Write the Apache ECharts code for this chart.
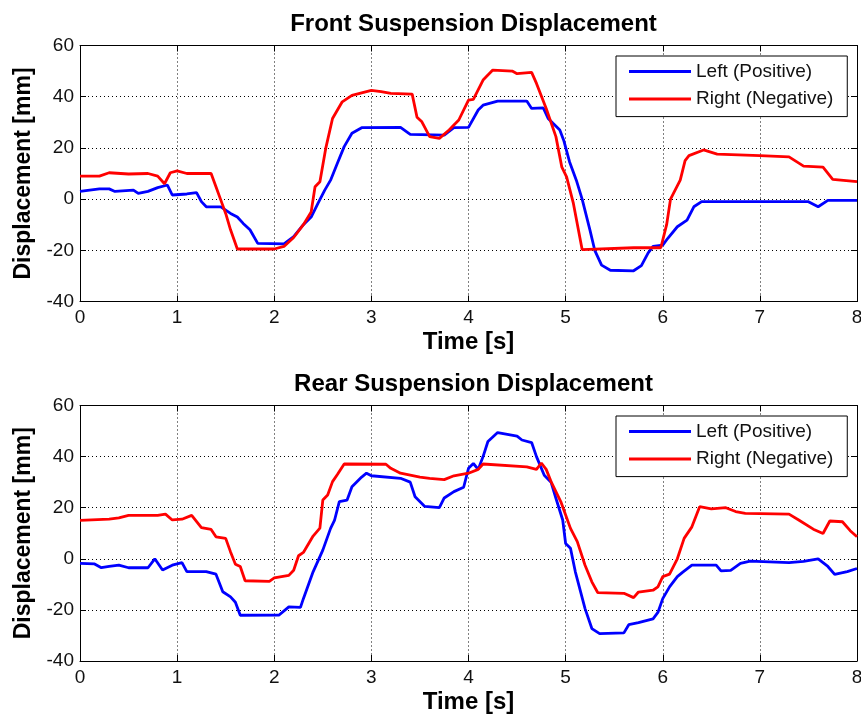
<!DOCTYPE html>
<html>
<head>
    <meta charset="utf-8">
    <title>Suspension Displacement</title>
    <script src="https://cdn.jsdelivr.net/npm/echarts@6/dist/echarts.min.js"></script>
</head>
<body style="margin:0;background:#fff;">
    <div id="main" style="width:861px;height:718px;"></div>
    <script type="text/javascript">

    // ----- data: [time s, displacement mm]
    var titles = ['Front Suspension Displacement', 'Rear Suspension Displacement'];
    var legendNames = ['Left (Positive)', 'Right (Negative)'];
    var xTicks = [0, 1, 2, 3, 4, 5, 6, 7, 8];
    var yTicks = [-40, -20, 0, 20, 40, 60];

    var frontLeft = [[0,3],[0.2,4],[0.3,4],[0.36,3],[0.55,3.5],[0.6,2.2],[0.7,3],[0.8,4.5],[0.9,5.5],[0.95,1.6],
        [1.1,2],[1.2,2.5],[1.25,-1],[1.3,-3],[1.45,-3],[1.55,-5.6],[1.62,-7],[1.68,-9.5],[1.75,-12],[1.83,-17.3],
        [2.1,-17.5],[2.2,-14.7],[2.3,-10],[2.38,-7],[2.45,-1.7],[2.52,3.5],[2.58,7.4],[2.65,14],[2.72,20.5],[2.8,25.7],
        [2.9,27.9],[3.3,28],[3.4,25.3],[3.75,25],[3.85,27.9],[4.0,28],[4.1,34.8],[4.15,36.7],[4.3,38.3],[4.6,38.3],
        [4.65,35.4],[4.77,35.6],[4.82,31.5],[4.87,29.6],[4.94,27],[4.98,23],[5.04,14.6],[5.11,7.4],[5.17,0],[5.25,-12],
        [5.3,-20],[5.37,-25.8],[5.46,-27.8],[5.7,-28],[5.78,-26],[5.85,-21],[5.9,-18.5],[6.0,-18],[6.05,-15.4],[6.15,-10.8],
        [6.25,-8.2],[6.32,-3],[6.4,-1],[7.5,-1],[7.6,-3],[7.7,-0.5],[8,-0.5]];

    var frontRight = [[0,9],[0.2,9],[0.3,10.3],[0.5,9.8],[0.7,10],[0.8,9],[0.87,6],[0.93,10.3],[1.0,11],[1.1,10],
        [1.35,10],[1.4,4.8],[1.45,-0.4],[1.5,-5.6],[1.55,-12],[1.62,-19.5],[2.0,-19.5],[2.1,-18.5],[2.2,-15],[2.3,-10],
        [2.38,-5],[2.42,4.8],[2.47,6.8],[2.53,19.8],[2.6,31.5],[2.7,38],[2.8,40.5],[3.0,42.5],[3.1,42],[3.2,41.3],
        [3.42,41],[3.47,32],[3.52,30.2],[3.6,24.4],[3.7,23.7],[3.8,27],[3.9,30.9],[4.0,38.7],[4.05,39],[4.15,46.5],
        [4.25,50.4],[4.45,50],[4.5,49],[4.65,49.5],[4.7,45.2],[4.8,35.4],[4.9,24.4],[4.96,12.6],[5.01,8.7],[5.08,-1.7],
        [5.17,-19.7],[5.7,-19],[5.98,-19],[6.04,-10],[6.08,0],[6.18,7.4],[6.23,15],[6.27,17],[6.42,19.2],[6.56,17.6],
        [7.0,17],[7.3,16.5],[7.45,12.9],[7.65,12.5],[7.75,7.7],[8.0,6.8]];

    var rearLeft = [[0,-1.8],[0.15,-2],[0.22,-3.5],[0.3,-3],[0.4,-2.5],[0.5,-3.5],[0.7,-3.5],[0.77,0],[0.85,-4.4],[0.95,-2.5],
        [1.05,-1.5],[1.1,-5],[1.3,-5],[1.4,-6],[1.47,-12.9],[1.55,-14.9],[1.6,-17],[1.65,-22.1],[2.05,-22],[2.15,-18.8],
        [2.27,-19],[2.3,-15.6],[2.4,-5.1],[2.5,3.4],[2.58,11.9],[2.62,15],[2.67,22.4],[2.75,23],[2.8,28.2],[2.9,32],
        [2.95,33.5],[3.0,32.5],[3.3,31.5],[3.4,30],[3.45,24.3],[3.55,20.5],[3.7,20],[3.75,23.8],[3.85,26.3],[3.95,28],
        [4.0,35.4],[4.05,37.3],[4.1,35],[4.15,40],[4.2,45.9],[4.3,49.4],[4.5,48],[4.55,46.5],[4.65,45.5],[4.7,40],
        [4.78,32.7],[4.85,30],[4.9,23.7],[4.97,15.2],[5.0,6],[5.05,4.1],[5.1,-5.1],[5.2,-19.5],[5.27,-27.3],[5.35,-29.3],
        [5.6,-29],[5.65,-25.8],[5.75,-25],[5.9,-23.5],[5.95,-21],[6.0,-15.6],[6.07,-11],[6.15,-7],[6.2,-5.4],[6.3,-2.5],
        [6.55,-2.5],[6.6,-4.7],[6.7,-4.5],[6.8,-1.8],[6.9,-0.9],[7.3,-1.5],[7.45,-1],[7.6,0],[7.7,-3],[7.77,-6.1],
        [7.9,-5],[8.0,-3.8]];

    var rearRight = [[0,15],[0.3,15.5],[0.4,16],[0.5,17],[0.8,17],[0.88,17.5],[0.95,15.2],[1.05,15.5],[1.15,17],[1.25,12.2],
        [1.35,11.5],[1.4,8.6],[1.5,8],[1.55,2.7],[1.6,-2.1],[1.65,-3],[1.7,-8.6],[1.95,-8.8],[2.0,-7.5],[2.15,-6.5],
        [2.2,-4.5],[2.25,1.2],[2.3,2.5],[2.4,8.9],[2.47,12],[2.5,23],[2.55,25],[2.6,30.2],[2.65,33],[2.72,37.1],
        [3.15,37],[3.2,35.4],[3.3,33.5],[3.5,32],[3.6,31.5],[3.75,31],[3.85,32.5],[4.0,33.5],[4.1,35],[4.15,37.1],
        [4.6,36],[4.7,35],[4.75,37.5],[4.8,35],[4.85,30.2],[4.95,22.4],[5.05,11.9],[5.12,6.7],[5.2,-2.5],[5.27,-9],
        [5.33,-13.2],[5.6,-13.5],[5.7,-15.2],[5.75,-13],[5.9,-12.3],[5.95,-11],[6.0,-7],[6.07,-6],[6.15,0],[6.22,8],
        [6.3,12.5],[6.38,20.4],[6.5,19.5],[6.65,20],[6.75,18.5],[6.85,17.8],[7.3,17.5],[7.4,15.2],[7.55,11.6],[7.65,9.9],
        [7.72,14.8],[7.85,14.5],[7.93,11],[8.0,8.6]];

    var myChart = echarts.init(document.getElementById('main'));

    var font = 'Liberation Sans, Arial, sans-serif';
    var grids = [
        { left: 80, top: 45.5, width: 777, height: 256 },
        { left: 80, top: 405.5, width: 777, height: 255.5 }
    ];

    var xMin = xTicks[0], xMax = xTicks[xTicks.length - 1], xStep = xTicks[1] - xTicks[0];
    var yMin = yTicks[0], yMax = yTicks[yTicks.length - 1], yStep = yTicks[1] - yTicks[0];

    var xAxes = [], yAxes = [];
    grids.forEach(function (g, gi) {
        // main axes (bottom / left) with labels and dotted grid
        xAxes.push({
            type: 'value', gridIndex: gi, position: 'bottom',
            min: xMin, max: xMax, interval: xStep,
            axisLine: { show: true, onZero: false, lineStyle: { color: '#000', width: 1 } },
            axisTick: { show: true, inside: true, length: 6, lineStyle: { color: '#000' } },
            axisLabel: { color: '#111', fontSize: 19, fontFamily: font, margin: 7 },
            splitLine: { show: true, lineStyle: { color: '#000', width: 1, type: [1, 3] } },
            name: 'Time [s]', nameLocation: 'middle', nameGap: 29,
            nameTextStyle: { color: '#000', fontSize: 24, fontWeight: 'bold', fontFamily: font }
        });
        // box: top / right axes, ticks only
        xAxes.push({
            type: 'value', gridIndex: gi, position: 'top',
            min: xMin, max: xMax, interval: xStep,
            axisLine: { show: true, onZero: false, lineStyle: { color: '#000', width: 1 } },
            axisTick: { show: true, inside: true, length: 6, lineStyle: { color: '#000' } },
            axisLabel: { show: false }, splitLine: { show: false }
        });
        yAxes.push({
            type: 'value', gridIndex: gi, position: 'left',
            min: yMin, max: yMax, interval: yStep,
            axisLine: { show: true, onZero: false, lineStyle: { color: '#000', width: 1 } },
            axisTick: { show: true, inside: true, length: 6, lineStyle: { color: '#000' } },
            axisLabel: { color: '#111', fontSize: 19, fontFamily: font, margin: 6 },
            splitLine: { show: true, lineStyle: { color: '#000', width: 1, type: [1, 3] } },
            name: 'Displacement [mm]', nameLocation: 'middle', nameGap: 43, nameRotate: 90,
            nameTextStyle: { color: '#000', fontSize: 23, fontWeight: 'bold', fontFamily: font }
        });
        yAxes.push({
            type: 'value', gridIndex: gi, position: 'right',
            min: yMin, max: yMax, interval: yStep,
            axisLine: { show: true, onZero: false, lineStyle: { color: '#000', width: 1 } },
            axisTick: { show: true, inside: true, length: 6, lineStyle: { color: '#000' } },
            axisLabel: { show: false }, splitLine: { show: false }
        });
    });

    function line(name, data, color, gi) {
        return {
            name: name, type: 'line', data: data,
            xAxisIndex: gi * 2, yAxisIndex: gi * 2,
            showSymbol: false, symbol: 'none', animation: false,
            lineStyle: { color: color, width: 2.8 },
            itemStyle: { color: color }
        };
    }

    function legend(top) {
        return {
            left: 616, top: top, orient: 'vertical',
            data: legendNames,
            icon: 'rect',
            itemWidth: 62, itemHeight: 3, itemGap: 8.6,
            padding: [6, 14, 8, 13],
            borderColor: '#000', borderWidth: 1, borderRadius: 0,
            backgroundColor: '#fff',
            textStyle: { color: '#111', fontSize: 19, fontFamily: font },
            selectedMode: false
        };
    }

    var option = {
        backgroundColor: '#fff',
        animation: false,
        title: [
            { text: titles[0], left: 468.5, top: 7, textAlign: 'center',
              textStyle: { color: '#000', fontSize: 24, fontWeight: 'bold', fontFamily: font } },
            { text: titles[1], left: 468.5, top: 367, textAlign: 'center',
              textStyle: { color: '#000', fontSize: 24, fontWeight: 'bold', fontFamily: font } }
        ],
        legend: [legend(56), legend(416)],
        grid: grids.map(function (g) {
            return Object.assign({ containLabel: false, outerBoundsMode: 'none' }, g);
        }),
        xAxis: xAxes,
        yAxis: yAxes,
        series: [
            line(legendNames[0], frontLeft, '#0000ff', 0),
            line(legendNames[1], frontRight, '#ff0000', 0),
            line(legendNames[0], rearLeft, '#0000ff', 1),
            line(legendNames[1], rearRight, '#ff0000', 1)
        ]
    };

    myChart.setOption(option);
    </script>
</body>
</html>
